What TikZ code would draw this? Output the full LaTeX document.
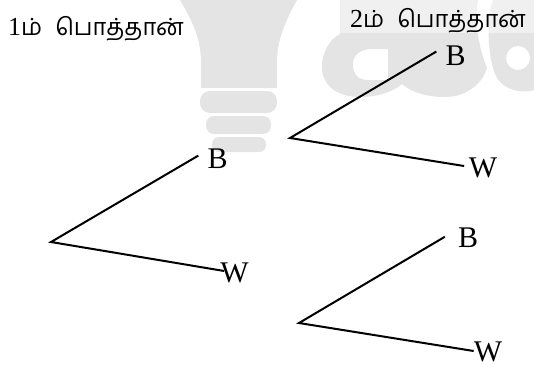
\documentclass[tikz,border=0pt]{standalone}
\usepackage{fontspec}
\usepackage{tikz}
\setmainfont{Liberation Serif}
\newfontfamily\tamilfont[Script=Tamil]{Hind Madurai}
\definecolor{markgray}{HTML}{E4E4E4}
\newcommand{\headtext}[1]{#1{\tamilfont\fontsize{23.6}{24}\selectfont ம்}\hspace{13pt}{\tamilfont\fontsize{23.6}{24}\selectfont பொத்தான்}}
\tikzset{
	letternode/.style={inner sep=9pt, font=\fontsize{30}{30}\selectfont},
	headnode/.style={inner sep=0pt, anchor=base west, font=\fontsize{26}{26}\selectfont},
	branch/.style={line width=2pt}
}
\begin{document}
\begin{tikzpicture}[x=1pt,y=-1pt]
	\useasboundingbox (0,0) rectangle (534,370);
	% bulb
	\fill[markgray] (180,0) .. controls (193,22) and (201,40) .. (201,62) -- (201,88) -- (277,88) -- (277,62) .. controls (277,40) and (285,22) .. (297,0) -- cycle;
	\fill[markgray, rounded corners=10pt] (200,91) rectangle (277,113);
	\fill[markgray, rounded corners=8pt] (206,116) rectangle (271,134);
	\fill[markgray, rounded corners=7pt] (212,137) rectangle (266,152);
	% letters
	\fill[markgray, even odd rule] (340,0) -- (340,34) .. controls (325,42) and (321,60) .. (322,70) .. controls (324,88) and (340,97) .. (360,97) .. controls (375,97) and (392,93) .. (402,84) .. controls (412,93) and (428,97) .. (445,97) .. controls (465,97) and (482,85) .. (487,68) .. controls (478,45) and (474,20) .. (478,0) -- cycle
		(353,64) .. controls (353,54) and (362,49) .. (372,49) -- (388,49) -- (388,80) -- (368,80) .. controls (358,80) and (353,74) .. (353,64) -- cycle;
	\fill[markgray, even odd rule] (493,0) .. controls (485,20) and (488,70) .. (500,82) .. controls (510,92) and (525,93) .. (534,90) -- (534,0) -- cycle
		(518,58) circle[radius=12];
	\fill[white, opacity=0.45] (338,0) rectangle (534,33);
	% labels
	\node[headnode] (head1) at (8,35) {\headtext{1}};
	\node[headnode] (head2) at (350,27) {\headtext{2}};
	\coordinate (root1) at (51,242);
	\coordinate (root2) at (290,138);
	\coordinate (root3) at (299,323);
	\node[letternode] at (217.5,159) (b1){B};
	\node[letternode, inner sep=-4pt] at (234.5,273) (w1){W};
	\node[letternode] at (455.5,56) (b2){B};
	\node[letternode, inner sep=4.5pt] at (483,168) (w2){W};
	\node[letternode, inner sep=13pt] at (468,238) (b3){B};
	\node[letternode, inner sep=0pt] at (488,352) (w3){W};
	\draw[branch] (b1.170) -- (root1) -- (w1.169);
	\draw[branch] (b2.167) -- (root2) -- (w2.174);
	\draw[branch] (b3.177) -- (root3) -- (w3.176);
\end{tikzpicture}
\end{document}
